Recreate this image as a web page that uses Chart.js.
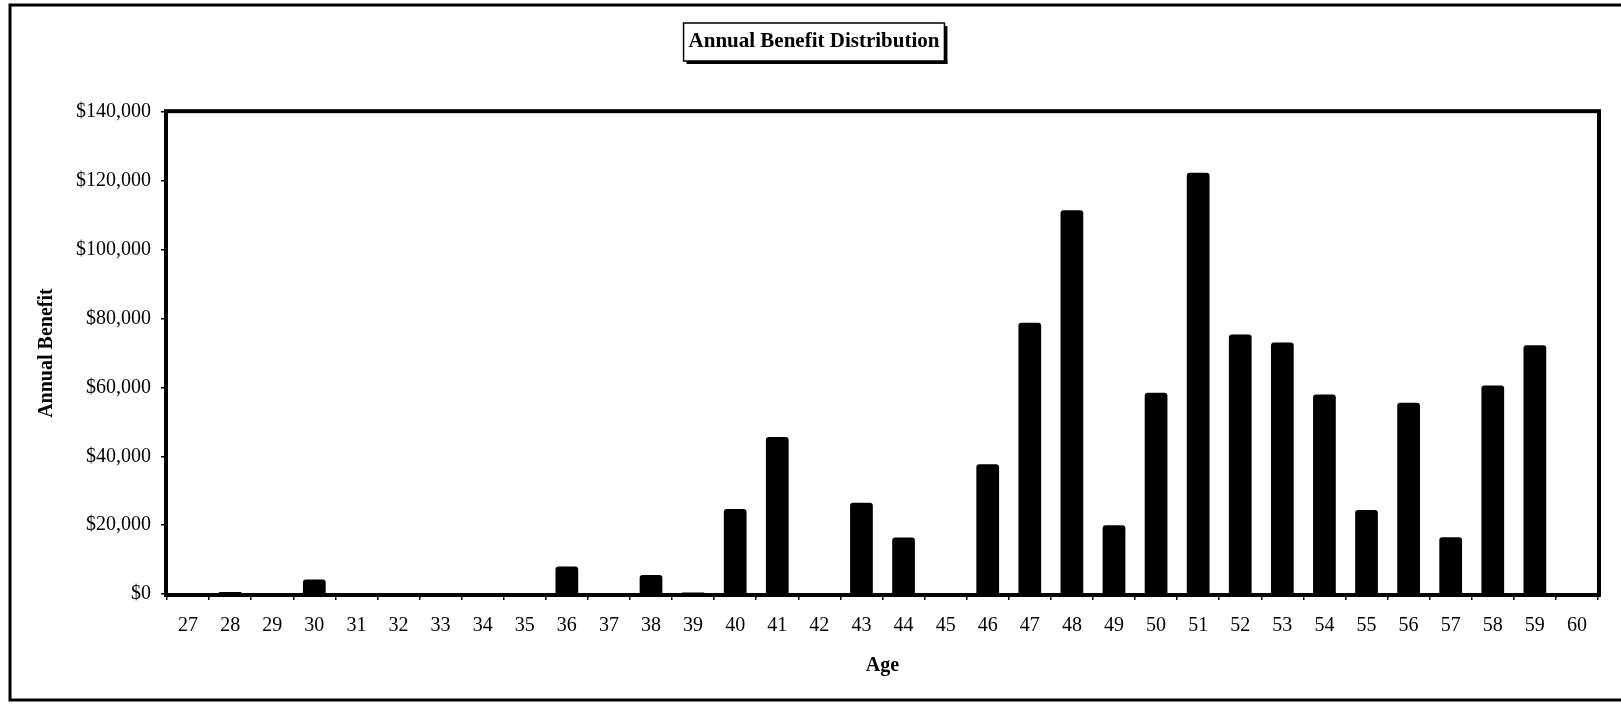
<!DOCTYPE html>
<html>
<head>
<meta charset="utf-8">
<script src="https://cdn.jsdelivr.net/npm/chart.js@4.4.1/dist/chart.umd.min.js"></script>
<style>
  html, body { margin: 0; padding: 0; background: #fff; overflow: hidden; }
  #wrap { width: 1621px; height: 704px; position: relative; }
  #chart1 { display: block; }
</style>
</head>
<body>
<div id="wrap"><canvas id="chart1"></canvas></div>
<script>
// data
const ages = ['27','28','29','30','31','32','33','34','35','36','37','38','39','40','41','42','43',
              '44','45','46','47','48','49','50','51','52','53','54','55','56','57','58','59','60'];
const benefits = [0, 600, 0, 4200, 300, 300, 300, 0, 0, 8000, 0, 5500, 400, 24700, 45600, 0, 26500,
                  16400, 0, 37700, 78800, 111500, 20000, 58500, 122400, 75400, 73100, 58000, 24400, 55600, 16500, 60600, 72300, 0];
const yTicks = [0, 20000, 40000, 60000, 80000, 100000, 120000, 140000];

const serif = '"Liberation Serif", "Times New Roman", serif';

// frame around the page, box round the title, thick border round the plot
const frames = {
    id: 'frames',
    beforeDraw(chart) {
        const ctx = chart.ctx;
        ctx.save();
        ctx.strokeStyle = '#000';
        ctx.lineWidth = 3;
        ctx.beginPath();
        ctx.moveTo(chart.width, 5);
        ctx.lineTo(10, 5);
        ctx.lineTo(10, 700);
        ctx.lineTo(chart.width, 700);
        ctx.stroke();
        ctx.restore();
    },
    afterDraw(chart) {
        const ctx = chart.ctx;
        const a = chart.chartArea;
        ctx.save();
        ctx.strokeStyle = '#000';
        ctx.lineWidth = 4;
        ctx.strokeRect(a.left - 1, a.top - 1, a.right - a.left + 2, a.bottom - a.top + 2);

        // title box with shadow
        const tb = chart.titleBlock;
        ctx.font = 'bold 21px ' + serif;
        const w = ctx.measureText(chart.options.plugins.title.text).width;
        const cx = tb.left + tb.width / 2;
        const x0 = cx - w / 2 - 5, y0 = 23, bw = w + 10, bh = 38;
        ctx.lineWidth = 1.5;
        ctx.strokeRect(x0, y0, bw, bh);
        ctx.fillStyle = '#000';
        ctx.fillRect(x0 + bw, y0 + 3, 3, bh);
        ctx.fillRect(x0 + 3, y0 + bh, bw, 3);
        ctx.restore();
    }
};

const ctx1 = document.getElementById('chart1');

new Chart(ctx1, {
    type: 'bar',
    data: {
        labels: ages,
        datasets: [{
            label: 'Annual Benefit',
            data: benefits,
            backgroundColor: '#000',
            borderWidth: 0,
            barPercentage: 1,
            categoryPercentage: 0.54,
            borderRadius: { topLeft: 3, topRight: 3 },
            borderSkipped: 'start'
        }]
    },
    plugins: [frames],
    options: {
        responsive: true,
        maintainAspectRatio: false,
        animation: false,
        layout: {
            padding: { left: 30, right: 23, top: 0, bottom: 0 }
        },
        plugins: {
            legend: { display: false },
            tooltip: { enabled: false },
            title: {
                display: true,
                text: 'Annual Benefit Distribution',
                color: '#000',
                font: { family: serif, size: 21, weight: 'bold' },
                padding: { top: 29, bottom: 58 }
            }
        },
        scales: {
            x: {
                grid: { drawOnChartArea: false, drawTicks: true, tickLength: 6, color: '#000', lineWidth: 1.5 },
                border: { display: false },
                ticks: { color: '#000', font: { family: serif, size: 20 }, padding: 14, maxRotation: 0, autoSkip: false },
                title: {
                    display: true,
                    text: 'Age',
                    color: '#000',
                    font: { family: serif, size: 20, weight: 'bold' },
                    padding: { top: 0, bottom: 26 }
                },
                afterFit(scale) { scale.height = 110; }
            },
            y: {
                min: yTicks[0],
                max: yTicks[yTicks.length - 1],
                grid: { drawOnChartArea: false, drawTicks: true, tickLength: 6, color: '#000', lineWidth: 1.5 },
                border: { display: false },
                ticks: {
                    stepSize: yTicks[1] - yTicks[0],
                    color: '#000',
                    font: { family: serif, size: 20 },
                    padding: 10,
                    callback: v => '$' + v.toLocaleString('en-US')
                },
                title: {
                    display: true,
                    text: 'Annual Benefit',
                    color: '#000',
                    font: { family: serif, size: 20, weight: 'bold' },
                    padding: { top: 5, bottom: 0 }
                },
                afterFit(scale) { scale.width = 137; }
            }
        }
    }
});
</script>
</body>
</html>
